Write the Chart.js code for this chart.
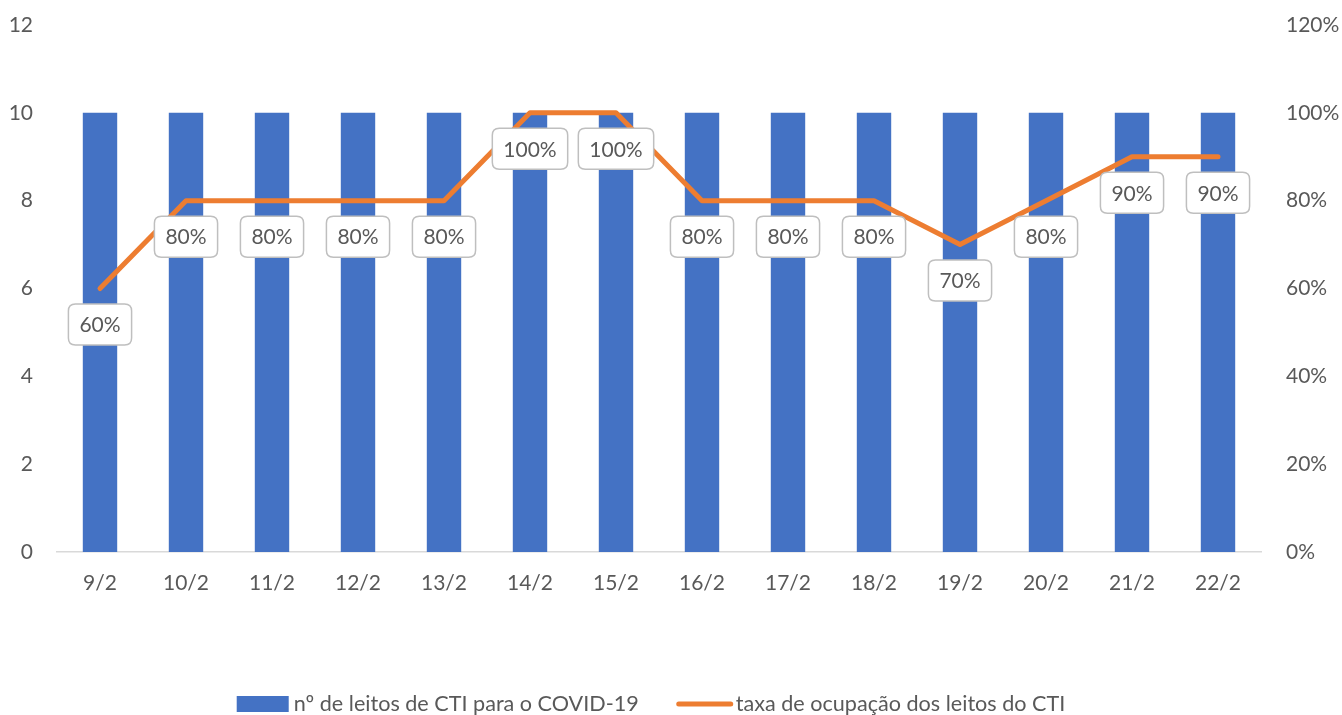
<!DOCTYPE html>
<html>
<head>
<meta charset="utf-8">
<script src="https://cdn.jsdelivr.net/npm/chart.js@4.4.1/dist/chart.umd.min.js"></script>
<style>
  html, body { margin: 0; padding: 0; background: #ffffff; }
  #wrap { width: 1342px; height: 715px; position: relative; }
</style>
</head>
<body>
<div id="wrap"><canvas id="c" width="1342" height="715"></canvas></div>
<script>
const categories = ['9/2','10/2','11/2','12/2','13/2','14/2','15/2','16/2','17/2','18/2','19/2','20/2','21/2','22/2'];
const leitos = [10,10,10,10,10,10,10,10,10,10,10,10,10,10];
const ocupacao = [60,80,80,80,80,100,100,80,80,80,70,80,90,90];
const leftTicks = [0,2,4,6,8,10,12];
const rightTicks = [0,20,40,60,80,100,120];
const seriesNames = ['nº de leitos de CTI para o COVID-19', 'taxa de ocupação dos leitos do CTI'];

const FONT = "Lato, 'Open Sans', 'Liberation Sans', sans-serif";
const TXT = '#595959';
const BLUE = '#4472C4';
const ORANGE = '#ED7D31';

function roundRect(ctx, x, y, w, h, r) {
  ctx.beginPath();
  ctx.moveTo(x + r, y);
  ctx.lineTo(x + w - r, y);
  ctx.quadraticCurveTo(x + w, y, x + w, y + r);
  ctx.lineTo(x + w, y + h - r);
  ctx.quadraticCurveTo(x + w, y + h, x + w - r, y + h);
  ctx.lineTo(x + r, y + h);
  ctx.quadraticCurveTo(x, y + h, x, y + h - r);
  ctx.lineTo(x, y + r);
  ctx.quadraticCurveTo(x, y, x + r, y);
  ctx.closePath();
}

const labelPlugin = {
  id: 'pctLabels',
  afterDatasetsDraw(chart) {
    const ctx = chart.ctx;
    const meta = chart.getDatasetMeta(1);
    const data = chart.data.datasets[1].data;
    ctx.save();
    ctx.font = '21px ' + FONT;
    ctx.textAlign = 'center';
    ctx.textBaseline = 'middle';
    meta.data.forEach((pt, i) => {
      const txt = data[i] + '%';
      const tw = ctx.measureText(txt).width;
      const w = tw + 22, h = 41;
      const cx = pt.x, cy = pt.y + 36;
      roundRect(ctx, cx - w / 2, cy - h / 2, w, h, 7);
      ctx.fillStyle = '#ffffff';
      ctx.fill();
      ctx.lineWidth = 1.5;
      ctx.strokeStyle = '#bfbfbf';
      ctx.stroke();
      ctx.fillStyle = TXT;
      ctx.fillText(txt, cx, cy + 1);
    });
    ctx.restore();
  }
};

const legendPlugin = {
  id: 'bottomLegend',
  afterDraw(chart) {
    const ctx = chart.ctx;
    ctx.save();
    ctx.font = '21.6px ' + FONT;
    ctx.textBaseline = 'middle';
    ctx.textAlign = 'left';
    const t1 = ctx.measureText(seriesNames[0]).width;
    const t2 = ctx.measureText(seriesNames[1]).width;
    const boxW = 52, gap1 = 5, itemGap = 38, lineW = 56, gap2 = 3;
    const total = boxW + gap1 + t1 + itemGap + lineW + gap2 + t2;
    let x = 651 - total / 2;
    const y = 704;
    ctx.fillStyle = BLUE;
    ctx.fillRect(x, y - 8, boxW, 16);
    x += boxW + gap1;
    ctx.fillStyle = TXT;
    ctx.fillText(seriesNames[0], x, y);
    x += t1 + itemGap;
    ctx.strokeStyle = ORANGE;
    ctx.lineWidth = 5;
    ctx.lineCap = 'round';
    ctx.beginPath();
    ctx.moveTo(x + 2, y);
    ctx.lineTo(x + lineW - 2, y);
    ctx.stroke();
    x += lineW + gap2;
    ctx.fillStyle = TXT;
    ctx.fillText(seriesNames[1], x, y);
    ctx.restore();
  }
};

new Chart(document.getElementById('c'), {
  data: {
    labels: categories,
    datasets: [
      {
        type: 'bar',
        label: seriesNames[0],
        data: leitos,
        backgroundColor: BLUE,
        yAxisID: 'y',
        categoryPercentage: 1.0,
        barPercentage: 0.4,
        order: 2
      },
      {
        type: 'line',
        label: seriesNames[1],
        data: ocupacao,
        borderColor: ORANGE,
        backgroundColor: ORANGE,
        borderWidth: 5,
        pointRadius: 0,
        tension: 0,
        borderCapStyle: 'round',
        borderJoinStyle: 'round',
        yAxisID: 'y1',
        order: 1
      }
    ]
  },
  options: {
    responsive: false,
    animation: false,
    layout: { padding: { top: 25, left: 0, right: 0, bottom: 0 } },
    plugins: { legend: { display: false }, tooltip: { enabled: false } },
    scales: {
      x: {
        grid: { display: false, drawTicks: false },
        border: { display: true, color: '#d9d9d9', width: 1.5 },
        ticks: { color: TXT, font: { family: FONT, size: 21 }, padding: 19 },
        afterFit(axis) { axis.height = 163; }
      },
      y: {
        position: 'left',
        min: 0, max: 12,
        afterBuildTicks(axis) { axis.ticks = leftTicks.map(v => ({ value: v })); },
        grid: { display: false, drawTicks: false },
        border: { display: false },
        ticks: { color: TXT, font: { family: FONT, size: 21 }, padding: 24 },
        afterFit(axis) { axis.width = 57; axis.paddingTop = 0; axis.paddingBottom = 0; }
      },
      y1: {
        position: 'right',
        min: 0, max: 120,
        afterBuildTicks(axis) { axis.ticks = rightTicks.map(v => ({ value: v })); },
        grid: { display: false, drawTicks: false },
        border: { display: false },
        ticks: { color: TXT, font: { family: FONT, size: 21 }, padding: 25, callback: v => v + '%' },
        afterFit(axis) { axis.width = 81; axis.paddingTop = 0; axis.paddingBottom = 0; }
      }
    }
  },
  plugins: [labelPlugin, legendPlugin]
});
</script>
</body>
</html>
